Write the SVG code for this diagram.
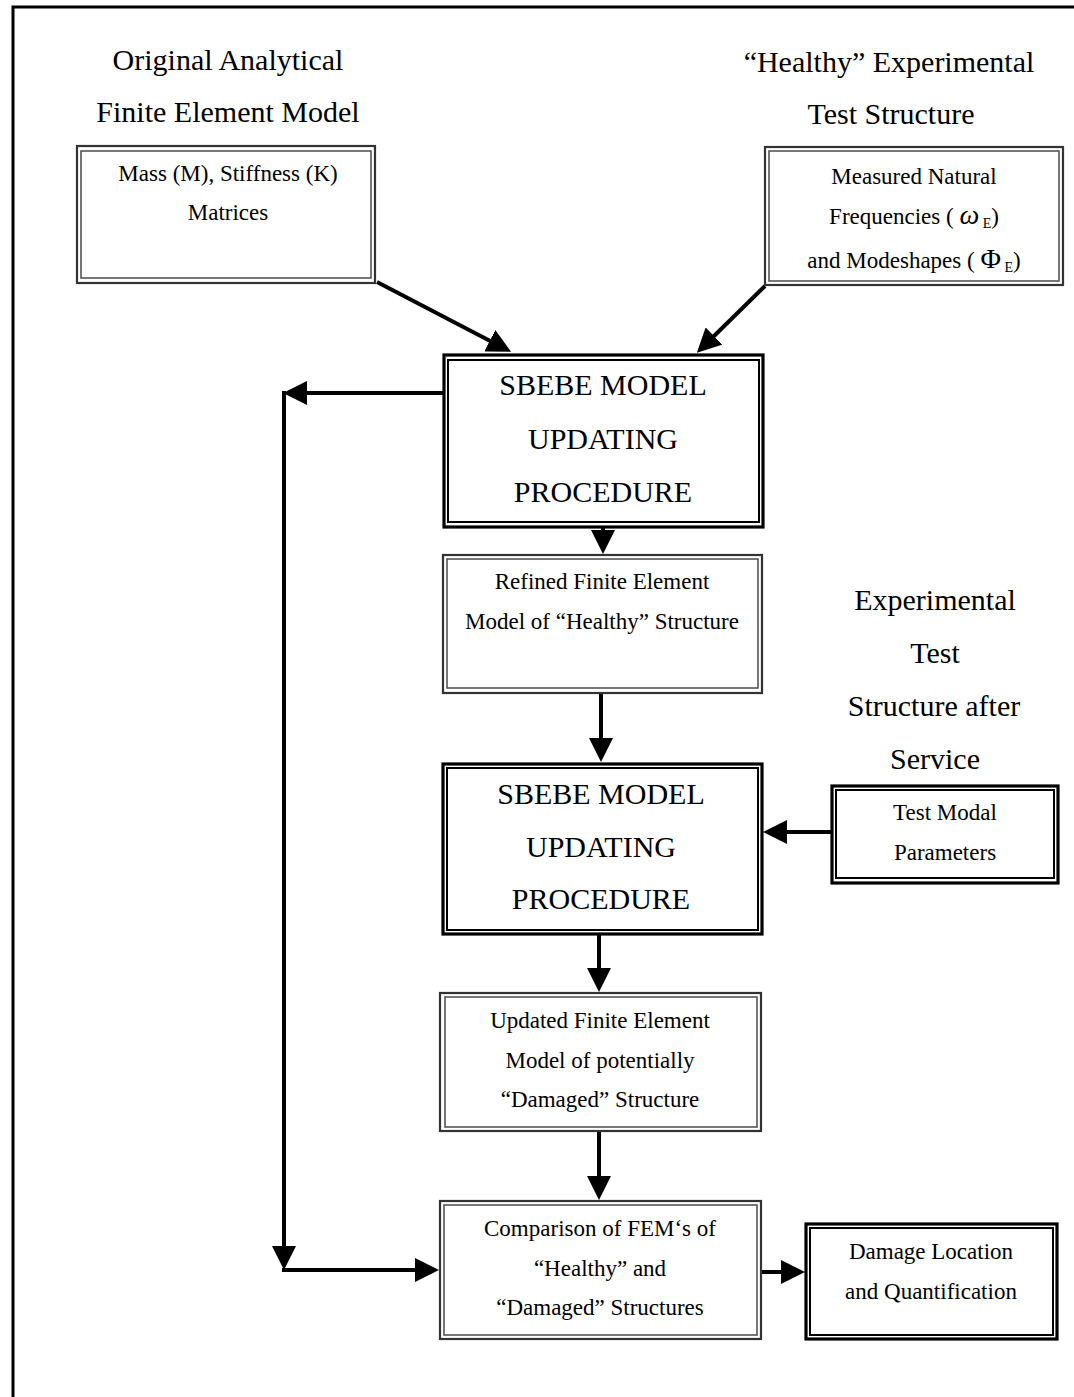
<svg xmlns="http://www.w3.org/2000/svg" width="1074" height="1397" viewBox="0 0 1074 1397">
<style>
.bg{fill:#fff}
.frame{fill:none;stroke:#000;stroke-width:3}
.o1{fill:#fff;stroke:#333;stroke-width:2.2}
.i1{fill:none;stroke:#555;stroke-width:1.6}
.o2{fill:#fff;stroke:#000;stroke-width:3.2}
.i2{fill:none;stroke:#000;stroke-width:2}
.title{font-family:"Liberation Serif","Times New Roman",serif;font-size:30px;fill:#000;text-anchor:middle}
.big{font-family:"Liberation Serif","Times New Roman",serif;font-size:30px;fill:#000;text-anchor:middle}
.t{font-family:"Liberation Serif","Times New Roman",serif;font-size:23px;fill:#000;text-anchor:middle}
.sub{font-size:14px}
.gr{font-size:28px;font-style:italic}
.phi{font-size:28px;font-style:normal}
.conn{fill:none;stroke:#000;stroke-width:4}
</style>
<defs>
<marker id="ah" markerUnits="userSpaceOnUse" markerWidth="24" markerHeight="24" refX="1" refY="12" orient="auto">
<path d="M0,0 L24,12 L0,24 z" fill="#000"/>
</marker>
</defs>
<rect class="bg" x="0" y="0" width="1074" height="1397"/>
<rect class="frame" x="13" y="7" width="1080" height="1420"/>

<g id="title-left">
<text class="title" x="228" y="70">Original Analytical</text>
<text class="title" x="228" y="122">Finite Element Model</text>
</g>
<g id="title-right">
<text class="title" x="889" y="72">“Healthy” Experimental</text>
<text class="title" x="891" y="124">Test Structure</text>
</g>
<g id="title-service">
<text class="big" x="935" y="610">Experimental</text>
<text class="big" x="935" y="663">Test</text>
<text class="big" x="934" y="716">Structure after</text>
<text class="big" x="935" y="769">Service</text>
</g>

<g id="connectors">
<line class="conn" x1="377" y1="282" x2="490.7" y2="341.2" marker-end="url(#ah)"/>
<line class="conn" x1="765" y1="286" x2="713.3" y2="336.7" marker-end="url(#ah)"/>
<line class="conn" x1="603" y1="528" x2="603" y2="531" marker-end="url(#ah)"/>
<line class="conn" x1="601" y1="694" x2="601" y2="739" marker-end="url(#ah)"/>
<line class="conn" x1="599" y1="935" x2="599" y2="969" marker-end="url(#ah)"/>
<line class="conn" x1="599" y1="1132" x2="599" y2="1177" marker-end="url(#ah)"/>
<line class="conn" x1="831" y1="832" x2="786" y2="832" marker-end="url(#ah)"/>
<line class="conn" x1="762" y1="1272" x2="782" y2="1272" marker-end="url(#ah)"/>
<line class="conn" x1="443" y1="393" x2="306" y2="393" marker-end="url(#ah)"/>
<line class="conn" x1="284" y1="391" x2="284" y2="1247" marker-end="url(#ah)"/>
<line class="conn" x1="282" y1="1270" x2="416" y2="1270" marker-end="url(#ah)"/>
</g>

<g id="mass">
<rect class="o1" x="77" y="146" width="298" height="137"/>
<rect class="i1" x="81" y="151" width="290" height="127"/>
<text class="t" x="228" y="181">Mass (M), Stiffness (K)</text>
<text class="t" x="228" y="220">Matrices</text>
</g>

<g id="measured">
<rect class="o1" x="765" y="147" width="298" height="138"/>
<rect class="i1" x="769" y="151" width="290" height="130"/>
<text class="t" x="914" y="184">Measured Natural</text>
<text class="t" x="914" y="224">Frequencies ( <tspan class="gr">ω</tspan><tspan class="sub" dy="4"> E</tspan><tspan dy="-4">)</tspan></text>
<text class="t" x="914" y="268">and Modeshapes ( <tspan class="phi">Φ</tspan><tspan class="sub" dy="4"> E</tspan><tspan dy="-4">)</tspan></text>
</g>

<g id="sbebe1">
<rect class="o2" x="444" y="355" width="319" height="172"/>
<rect class="i2" x="448" y="360" width="311" height="162"/>
<text class="big" x="603" y="395">SBEBE MODEL</text>
<text class="big" x="603" y="449">UPDATING</text>
<text class="big" x="603" y="502">PROCEDURE</text>
</g>

<g id="refined">
<rect class="o1" x="443" y="555" width="319" height="138"/>
<rect class="i1" x="447" y="559" width="311" height="129"/>
<text class="t" x="602" y="589">Refined Finite Element</text>
<text class="t" x="602" y="629">Model of “Healthy” Structure</text>
</g>

<g id="sbebe2">
<rect class="o2" x="443" y="764" width="319" height="170"/>
<rect class="i2" x="447" y="768" width="311" height="162"/>
<text class="big" x="601" y="804">SBEBE MODEL</text>
<text class="big" x="601" y="857">UPDATING</text>
<text class="big" x="601" y="909">PROCEDURE</text>
</g>

<g id="test-modal">
<rect class="o2" x="832" y="786" width="226" height="97"/>
<rect class="i2" x="836" y="790" width="218" height="88"/>
<text class="t" x="945" y="820">Test Modal</text>
<text class="t" x="945" y="860">Parameters</text>
</g>

<g id="updated">
<rect class="o1" x="440" y="993" width="321" height="138"/>
<rect class="i1" x="445" y="997" width="312" height="130"/>
<text class="t" x="600" y="1028">Updated Finite Element</text>
<text class="t" x="600" y="1068">Model of potentially</text>
<text class="t" x="600" y="1107">“Damaged” Structure</text>
</g>

<g id="comparison">
<rect class="o1" x="440" y="1201" width="321" height="138"/>
<rect class="i1" x="444" y="1205" width="313" height="130"/>
<text class="t" x="600" y="1236">Comparison of FEM‘s of</text>
<text class="t" x="600" y="1276">“Healthy” and</text>
<text class="t" x="600" y="1315">“Damaged” Structures</text>
</g>

<g id="damage">
<rect class="o2" x="806" y="1224" width="251" height="115"/>
<rect class="i2" x="810" y="1228" width="243" height="107"/>
<text class="t" x="931" y="1259">Damage Location</text>
<text class="t" x="931" y="1299">and Quantification</text>
</g>
</svg>
